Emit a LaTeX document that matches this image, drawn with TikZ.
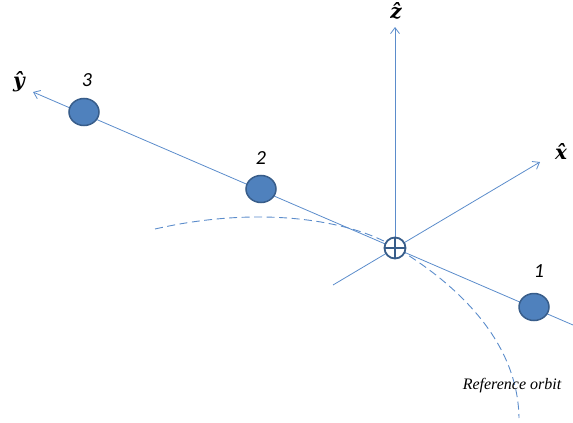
\documentclass[tikz,border=0pt]{standalone}
\usepackage{fontspec}
\newfontfamily\calib{Carlito}
\newfontfamily\tnr{Liberation Serif}
\newfontfamily\dvs{DejaVu Serif}
\usetikzlibrary{arrows.meta,shapes.geometric}
\definecolor{axisblue}{HTML}{5B8CCB}
\definecolor{ballfill}{HTML}{4F81BD}
\definecolor{ballline}{HTML}{385D8A}
\begin{document}
\begin{tikzpicture}[x=1pt,y=-1pt,
  axis/.style={draw=axisblue,line width=0.8pt,-{Straight Barb[length=6pt,width=9pt]}},
  ball/.style={ellipse,draw=ballline,fill=ballfill,line width=1.5pt,minimum width=30pt,minimum height=27pt,inner sep=0pt},
  numlab/.style={font=\calib\itshape\fontsize{20}{20}\selectfont},
  hatlab/.style={inner sep=0pt,font=\dvs\bfseries\itshape\fontsize{20}{20}\selectfont}]
\useasboundingbox (0,0) rectangle (573,423);
\coordinate (O) at (395,248);
\coordinate (ystart) at (573,325);
\coordinate (yend) at (33,92);
\coordinate (xstart) at (333,285);
\coordinate (xend) at (540,162);
\coordinate (zend) at (395,27);
% orbit
\draw[axisblue,line width=0.9pt,dash pattern=on 8pt off 4.5pt] (155,229) .. controls (260,205) and (350,220) .. (395,247) .. controls (470,292) and (518,350) .. (519,418);
\draw[axis] (ystart) -- (yend);
\draw[axis] (xstart) -- (xend);
\draw[axis] (O) -- (zend);
\node[circle,draw=ballline,fill=white,line width=1.8pt,minimum size=21pt,inner sep=0pt] (c) at (O) {};
\draw[ballline,line width=1.6pt] (c.north) -- (c.south) (c.west) -- (c.east);
\node[ball] (b3) at (84,112) {};
\node[ball] (b2) at (261,189) {};
\node[ball] (b1) at (534,307) {};
\node[numlab] (n3) at (87,80) {3};
\node[numlab] (n2) at (261,158) {2};
\node[numlab] (n1) at (539,271) {1};
\node[hatlab] (lz) at (396,11) {z^^^^0302};
\node[hatlab] (ly) at (19,82) {y^^^^0302};
\node[hatlab] (lx) at (561,152) {x^^^^0302};
\node[font=\tnr\itshape\fontsize{16}{17}\selectfont] (ro) at (512,386) {Reference orbit};
\end{tikzpicture}
\end{document}
